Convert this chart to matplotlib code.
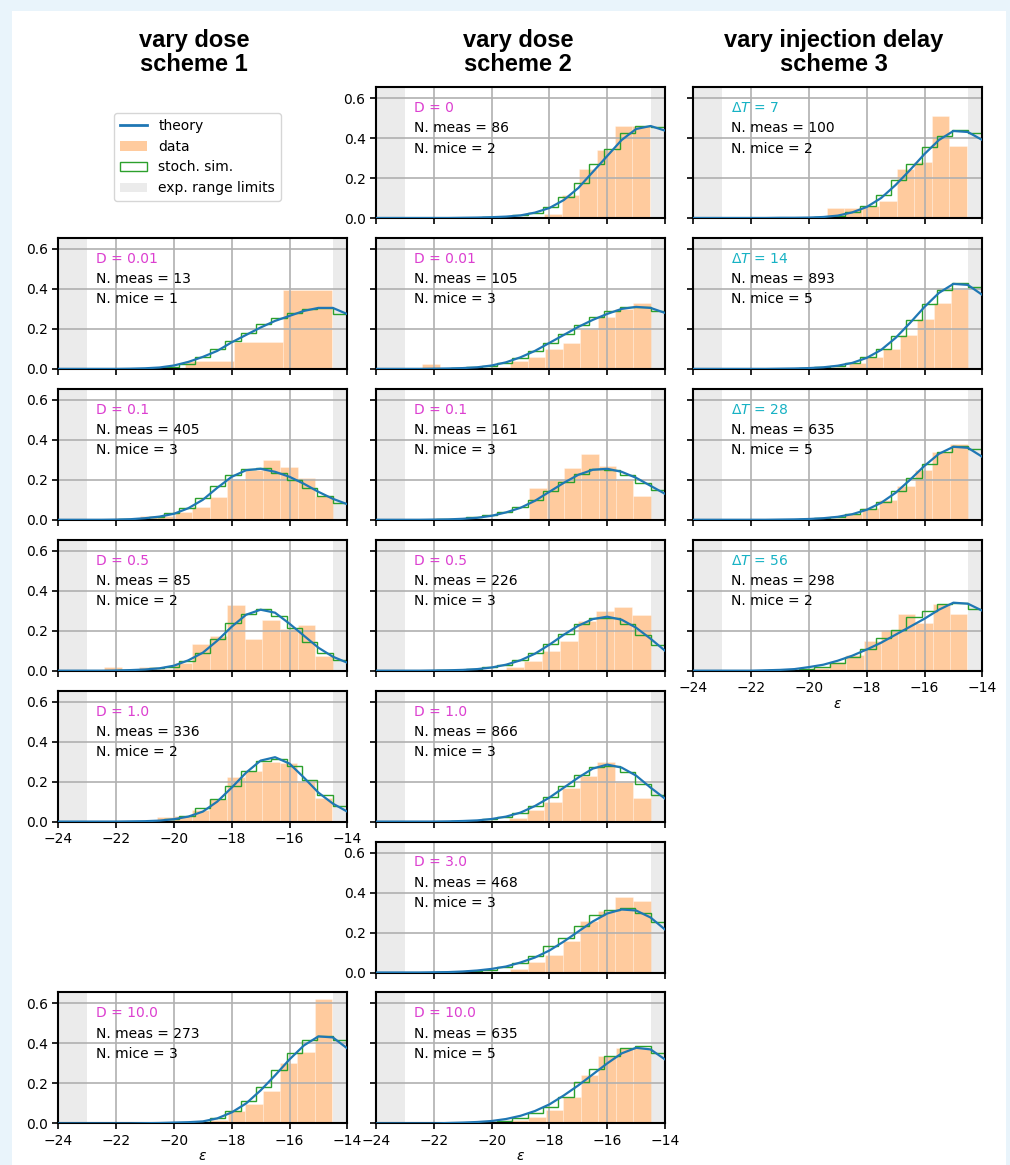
import numpy as np
import matplotlib.pyplot as plt
from matplotlib.lines import Line2D
from matplotlib.patches import Patch, Rectangle

# theory curve is sampled on this grid
theory_x = np.arange(-24.0, -13.9, 0.5)
# stochastic simulation bins
sim_edges = -23.0 + 0.53125 * np.arange(18)

# ---- scheme 1 (vary dose) ----
th_s1_d001 = [0, 0, 0, 0, 0, 0.001, 0.003, 0.007, 0.017, 0.035, 0.06, 0.09, 0.133, 0.17, 0.207, 0.24, 0.265, 0.29, 0.305, 0.305, 0.274]
sim_s1_d001 = [0, 0, 0, 0.002, 0.005, 0.01, 0.025, 0.058, 0.1, 0.14, 0.182, 0.224, 0.254, 0.282, 0.302, 0.307, 0.277]
dat_s1_d001 = [0.041, 0.133, 0.395]
rng_s1_d001 = (-19.6, -14.52)

th_s1_d01 = [0, 0, 0, 0, 0.001, 0.003, 0.008, 0.016, 0.03, 0.058, 0.1, 0.16, 0.215, 0.248, 0.255, 0.24, 0.215, 0.18, 0.14, 0.105, 0.078]
sim_s1_d01 = [0, 0, 0.002, 0.006, 0.015, 0.033, 0.06, 0.11, 0.17, 0.225, 0.255, 0.258, 0.235, 0.2, 0.16, 0.12, 0.085]
dat_s1_d01 = [0.018, 0.018, 0.04, 0.065, 0.115, 0.2, 0.25, 0.3, 0.265, 0.21, 0.12]
rng_s1_d01 = (-21.19, -14.5)

th_s1_d05 = [0, 0, 0, 0, 0.001, 0.003, 0.006, 0.012, 0.025, 0.052, 0.09, 0.15, 0.22, 0.28, 0.305, 0.29, 0.235, 0.175, 0.115, 0.07, 0.04]
sim_s1_d05 = [0, 0, 0.002, 0.006, 0.012, 0.02, 0.05, 0.09, 0.16, 0.24, 0.285, 0.31, 0.272, 0.214, 0.144, 0.09, 0.053]
dat_s1_d05 = [0.017, 0, 0.017, 0.01, 0.04, 0.136, 0.172, 0.327, 0.16, 0.252, 0.21, 0.23, 0.073]
rng_s1_d05 = (-22.42, -14.5)

th_s1_d1 = [0, 0, 0, 0, 0, 0.001, 0.002, 0.005, 0.012, 0.025, 0.05, 0.1, 0.17, 0.245, 0.305, 0.322, 0.29, 0.22, 0.145, 0.09, 0.05]
sim_s1_d1 = [0, 0, 0, 0, 0.004, 0.012, 0.028, 0.066, 0.111, 0.177, 0.254, 0.302, 0.315, 0.279, 0.21, 0.133, 0.078]
dat_s1_d1 = [0.022, 0.028, 0.058, 0.113, 0.224, 0.252, 0.3, 0.294, 0.2, 0.12]
rng_s1_d1 = (-20.59, -14.52)

th_s1_d10 = [0, 0, 0, 0, 0, 0, 0.001, 0.002, 0.004, 0.006, 0.01, 0.025, 0.055, 0.1, 0.165, 0.24, 0.32, 0.39, 0.435, 0.43, 0.375]
sim_s1_d10 = [0, 0, 0, 0, 0, 0.002, 0.004, 0.008, 0.025, 0.062, 0.112, 0.183, 0.267, 0.35, 0.417, 0.438, 0.417]
dat_s1_d10 = [0.017, 0.062, 0.095, 0.162, 0.3, 0.355, 0.622]
rng_s1_d10 = (-18.74, -14.52)

# ---- scheme 2 (vary dose) ----
th_s2_d0 = [0, 0, 0, 0, 0, 0, 0.001, 0.002, 0.004, 0.007, 0.013, 0.027, 0.05, 0.09, 0.15, 0.23, 0.31, 0.39, 0.445, 0.46, 0.437]
sim_s2_d0 = [0, 0, 0, 0, 0.001, 0.003, 0.006, 0.013, 0.027, 0.055, 0.105, 0.175, 0.27, 0.345, 0.424, 0.46, 0.457]
dat_s2_d0 = [0.018, 0.113, 0.246, 0.342, 0.459, 0.459]
rng_s2_d0 = (-18.19, -14.52)

th_s2_d001 = [0, 0, 0, 0, 0.001, 0.002, 0.004, 0.008, 0.017, 0.033, 0.058, 0.09, 0.13, 0.17, 0.21, 0.245, 0.275, 0.3, 0.31, 0.305, 0.28]
sim_s2_d001 = [0, 0, 0.002, 0.004, 0.008, 0.015, 0.03, 0.055, 0.09, 0.13, 0.175, 0.22, 0.26, 0.29, 0.31, 0.31, 0.29]
dat_s2_d001 = [0.025, 0, 0, 0, 0.01, 0.04, 0.06, 0.1, 0.13, 0.2, 0.26, 0.3, 0.33]
rng_s2_d001 = (-22.4, -14.5)

th_s2_d01 = [0, 0, 0, 0, 0.001, 0.002, 0.005, 0.01, 0.02, 0.037, 0.06, 0.095, 0.14, 0.185, 0.225, 0.25, 0.255, 0.24, 0.21, 0.17, 0.13]
sim_s2_d01 = [0, 0, 0.003, 0.006, 0.012, 0.022, 0.04, 0.065, 0.1, 0.145, 0.19, 0.23, 0.255, 0.25, 0.225, 0.185, 0.15]
dat_s2_d01 = [0.005, 0, 0, 0, 0, 0, 0.16, 0.2, 0.26, 0.33, 0.27, 0.2, 0.12]
rng_s2_d01 = (-22.3, -14.5)

th_s2_d05 = [0, 0, 0, 0, 0.001, 0.002, 0.004, 0.008, 0.016, 0.03, 0.052, 0.085, 0.13, 0.18, 0.225, 0.258, 0.27, 0.255, 0.215, 0.16, 0.1]
sim_s2_d05 = [0, 0, 0.002, 0.004, 0.008, 0.017, 0.03, 0.055, 0.09, 0.135, 0.185, 0.235, 0.265, 0.265, 0.235, 0.18, 0.13]
dat_s2_d05 = [0.02, 0.05, 0.1, 0.15, 0.25, 0.3, 0.32, 0.28]
rng_s2_d05 = (-19.5, -14.5)

th_s2_d1 = [0, 0, 0, 0, 0, 0.001, 0.003, 0.006, 0.013, 0.025, 0.045, 0.078, 0.12, 0.17, 0.22, 0.265, 0.285, 0.27, 0.23, 0.17, 0.115]
sim_s2_d1 = [0, 0, 0, 0.002, 0.005, 0.012, 0.025, 0.045, 0.08, 0.125, 0.18, 0.235, 0.275, 0.28, 0.25, 0.19, 0.135]
dat_s2_d1 = [0.02, 0.06, 0.1, 0.17, 0.23, 0.3, 0.2, 0.12]
rng_s2_d1 = (-19.4, -14.5)

th_s2_d3 = [0, 0, 0, 0, 0.001, 0.002, 0.005, 0.01, 0.018, 0.03, 0.05, 0.075, 0.11, 0.155, 0.205, 0.255, 0.295, 0.315, 0.31, 0.275, 0.215]
sim_s2_d3 = [0, 0, 0.002, 0.005, 0.01, 0.015, 0.03, 0.05, 0.083, 0.132, 0.174, 0.231, 0.289, 0.314, 0.322, 0.298, 0.251]
dat_s2_d3 = [0.02, 0.053, 0.09, 0.157, 0.256, 0.306, 0.377, 0.359]
rng_s2_d3 = (-19.36, -14.5)

th_s2_d10 = [0, 0, 0, 0, 0, 0.002, 0.004, 0.007, 0.012, 0.022, 0.038, 0.062, 0.095, 0.14, 0.19, 0.245, 0.3, 0.35, 0.378, 0.37, 0.32]
sim_s2_d10 = [0, 0, 0.001, 0.002, 0.004, 0.006, 0.012, 0.025, 0.05, 0.083, 0.133, 0.207, 0.274, 0.337, 0.376, 0.386, 0.351]
dat_s2_d10 = [0.012, 0.017, 0.033, 0.066, 0.133, 0.24, 0.337, 0.376, 0.376]
rng_s2_d10 = (-19.95, -14.5)

# ---- scheme 3 (vary injection delay) ----
th_s3_t7 = [0, 0, 0, 0, 0, 0, 0.001, 0.001, 0.002, 0.005, 0.012, 0.028, 0.055, 0.1, 0.165, 0.24, 0.32, 0.39, 0.435, 0.43, 0.39]
sim_s3_t7 = [0, 0, 0, 0, 0, 0.002, 0.004, 0.008, 0.03, 0.058, 0.113, 0.188, 0.27, 0.354, 0.412, 0.44, 0.424]
dat_s3_t7 = [0.05, 0.05, 0.06, 0.085, 0.245, 0.28, 0.51, 0.36]
rng_s3_t7 = (-19.39, -14.54)

th_s3_t14 = [0, 0, 0, 0, 0, 0, 0.001, 0.002, 0.004, 0.008, 0.016, 0.03, 0.055, 0.095, 0.155, 0.23, 0.31, 0.38, 0.425, 0.42, 0.37]
sim_s3_t14 = [0, 0, 0, 0, 0.001, 0.003, 0.008, 0.016, 0.032, 0.06, 0.1, 0.165, 0.245, 0.325, 0.395, 0.43, 0.41]
dat_s3_t14 = [0.01, 0.03, 0.06, 0.1, 0.17, 0.25, 0.33, 0.4]
rng_s3_t14 = (-19.2, -14.5)

th_s3_t28 = [0, 0, 0, 0, 0, 0, 0.001, 0.002, 0.004, 0.008, 0.015, 0.028, 0.05, 0.085, 0.135, 0.2, 0.27, 0.33, 0.365, 0.36, 0.315]
sim_s3_t28 = [0, 0, 0, 0, 0.001, 0.003, 0.008, 0.015, 0.03, 0.055, 0.09, 0.145, 0.21, 0.28, 0.34, 0.37, 0.355]
dat_s3_t28 = [0.01, 0.03, 0.06, 0.1, 0.17, 0.25, 0.34, 0.38]
rng_s3_t28 = (-19.4, -14.5)

th_s3_t56 = [0, 0, 0, 0, 0, 0.002, 0.004, 0.008, 0.018, 0.03, 0.05, 0.075, 0.106, 0.14, 0.18, 0.22, 0.26, 0.305, 0.34, 0.335, 0.3]
sim_s3_t56 = [0, 0, 0, 0.002, 0.005, 0.01, 0.02, 0.04, 0.07, 0.111, 0.165, 0.206, 0.27, 0.3, 0.335, 0.34, 0.31]
dat_s3_t56 = [0.015, 0.045, 0.078, 0.148, 0.206, 0.282, 0.239, 0.332, 0.282]
rng_s3_t56 = (-19.9, -14.52)

col_titles = ['vary dose\nscheme 1', 'vary dose\nscheme 2', 'vary injection delay\nscheme 3']

D_COL = '#dc3fd0'
T_COL = '#17b2c4'

# (column, row, label, label colour, n meas, n mice, theory, sim, data, data range)
panels = [
    (0, 1, 'D = 0.01', D_COL, 13, 1, th_s1_d001, sim_s1_d001, dat_s1_d001, rng_s1_d001),
    (0, 2, 'D = 0.1', D_COL, 405, 3, th_s1_d01, sim_s1_d01, dat_s1_d01, rng_s1_d01),
    (0, 3, 'D = 0.5', D_COL, 85, 2, th_s1_d05, sim_s1_d05, dat_s1_d05, rng_s1_d05),
    (0, 4, 'D = 1.0', D_COL, 336, 2, th_s1_d1, sim_s1_d1, dat_s1_d1, rng_s1_d1),
    (0, 6, 'D = 10.0', D_COL, 273, 3, th_s1_d10, sim_s1_d10, dat_s1_d10, rng_s1_d10),
    (1, 0, 'D = 0', D_COL, 86, 2, th_s2_d0, sim_s2_d0, dat_s2_d0, rng_s2_d0),
    (1, 1, 'D = 0.01', D_COL, 105, 3, th_s2_d001, sim_s2_d001, dat_s2_d001, rng_s2_d001),
    (1, 2, 'D = 0.1', D_COL, 161, 3, th_s2_d01, sim_s2_d01, dat_s2_d01, rng_s2_d01),
    (1, 3, 'D = 0.5', D_COL, 226, 3, th_s2_d05, sim_s2_d05, dat_s2_d05, rng_s2_d05),
    (1, 4, 'D = 1.0', D_COL, 866, 3, th_s2_d1, sim_s2_d1, dat_s2_d1, rng_s2_d1),
    (1, 5, 'D = 3.0', D_COL, 468, 3, th_s2_d3, sim_s2_d3, dat_s2_d3, rng_s2_d3),
    (1, 6, 'D = 10.0', D_COL, 635, 5, th_s2_d10, sim_s2_d10, dat_s2_d10, rng_s2_d10),
    (2, 0, r'$\Delta T$ = 7', T_COL, 100, 2, th_s3_t7, sim_s3_t7, dat_s3_t7, rng_s3_t7),
    (2, 1, r'$\Delta T$ = 14', T_COL, 893, 5, th_s3_t14, sim_s3_t14, dat_s3_t14, rng_s3_t14),
    (2, 2, r'$\Delta T$ = 28', T_COL, 635, 5, th_s3_t28, sim_s3_t28, dat_s3_t28, rng_s3_t28),
    (2, 3, r'$\Delta T$ = 56', T_COL, 298, 2, th_s3_t56, sim_s3_t56, dat_s3_t56, rng_s3_t56),
]

W, H = 1010, 1165
fig = plt.figure(figsize=(W / 100, H / 100), dpi=100, facecolor='#e9f4fb')
fig.patches.append(Rectangle((12 / W, 0), (1006 - 12) / W, 1 - 11 / H, transform=fig.transFigure,
                             facecolor='white', edgecolor='none', zorder=-10))

col_left = [58.3, 376.0, 693.3]
ax_w, ax_h = 289.0, 131.0
row_top = [87 + 150.9 * r for r in range(7)]

occupied = {(c, r) for c, r, *_ in panels}
xlabel_axes = {(0, 6), (1, 6), (2, 3)}
xtick_axes = {(0, 4), (0, 6), (1, 6), (2, 3)}

for c, r, lab, lcol, nmeas, nmice, th, sim, dat, rng in panels:
    ax = fig.add_axes([col_left[c] / W, 1 - (row_top[r] + ax_h) / H, ax_w / W, ax_h / H])
    ax.axvspan(-24, -23, color='#ebebeb', lw=0, zorder=0)
    ax.axvspan(-14.5, -14, color='#ebebeb', lw=0, zorder=0)
    edges = np.linspace(rng[0], rng[1], len(dat) + 1)
    ax.bar(edges[:-1], dat, width=np.diff(edges), align='edge', color='C1', alpha=0.4,
           edgecolor='white', linewidth=0.5, zorder=1)
    ax.stairs(sim, sim_edges, color='C2', lw=1.0, zorder=2)
    ax.plot(theory_x, th, color='C0', lw=1.6, zorder=3)
    ax.set_xlim(-24, -14)
    ax.set_ylim(0, 0.655)
    ax.set_xticks(np.arange(-24, -13, 2))
    ax.set_yticks([0, 0.2, 0.4, 0.6])
    ax.grid(True, color='#b0b0b0', lw=1.2)
    ax.set_axisbelow('line')
    for s in ax.spines.values():
        s.set_linewidth(1.5)
    ax.tick_params(labelsize=10, width=1.2, length=4)
    # y labels only where there is no panel on the left
    if c > 0 and (c - 1, r) in occupied:
        ax.tick_params(labelleft=False)
    if c == 2:
        ax.tick_params(labelleft=False)
    if (c, r) not in xtick_axes:
        ax.tick_params(labelbottom=False)
    if (c, r) in xlabel_axes:
        ax.set_xlabel(r'$\epsilon$', fontsize=10, labelpad=1)
    ax.text(0.13, 0.84, lab, color=lcol, transform=ax.transAxes, fontsize=10, va='center')
    ax.text(0.13, 0.685, f'N. meas = {nmeas}', transform=ax.transAxes, fontsize=10, va='center')
    ax.text(0.13, 0.53, f'N. mice = {nmice}', transform=ax.transAxes, fontsize=10, va='center')

title_x = [194, 518, 834]
for x, t in zip(title_x, col_titles):
    fig.text(x / W, 1 - 29 / H, t, ha='center', va='top', fontsize=17, fontweight='bold',
             family='Liberation Sans', linespacing=1.06)

handles = [Line2D([0], [0], color='C0', lw=2),
           Patch(facecolor='C1', alpha=0.4),
           Patch(facecolor='none', edgecolor='C2'),
           Patch(facecolor='#ebebeb')]
fig.legend(handles, ['theory', 'data', 'stoch. sim.', 'exp. range limits'], loc='upper left',
           bbox_to_anchor=(114 / W, 1 - 113 / H), fontsize=10, borderaxespad=0)

fig.savefig('out.png', dpi=100, facecolor=fig.get_facecolor())
